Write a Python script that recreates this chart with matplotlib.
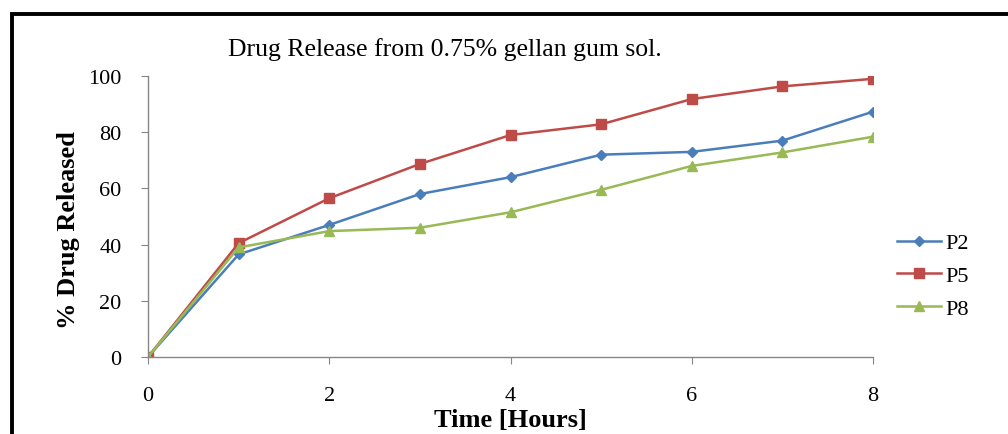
import numpy as np
import matplotlib
matplotlib.use("Agg")
import matplotlib.pyplot as plt
from matplotlib.patches import Rectangle

hours = [0, 1, 2, 3, 4, 5, 6, 7, 8]
p2 = [0, 36.5, 47, 58, 64, 72, 73, 77, 87.3]
p5 = [0, 40.5, 56.5, 68.7, 79, 82.8, 91.8, 96.3, 99]
p8 = [0, 39, 44.8, 46, 51.5, 59.5, 68, 72.8, 78.4]

plt.rcParams["font.family"] = ["Liberation Serif", "DejaVu Serif"]

fig = plt.figure(figsize=(10.08, 4.35), dpi=100)
ax = fig.add_axes([148 / 1008, 1 - 358 / 435, (873 - 148) / 1008, (358 - 77) / 435])

ax.plot(hours, p2, color="#4A7EBB", marker="D", markersize=5.5, lw=1.8, label="P2")
ax.plot(hours, p5, color="#BE4B48", marker="s", markersize=7, lw=1.8, label="P5")
ax.plot(hours, p8, color="#98B954", marker="^", markersize=7, lw=1.8, label="P8")

ax.set_xlim(0, 8)
ax.set_ylim(0, 100)
ax.set_xticks([0, 2, 4, 6, 8])
ax.set_yticks([0, 20, 40, 60, 80, 100])
for s in ("top", "right"):
    ax.spines[s].set_visible(False)
for s in ("left", "bottom"):
    ax.spines[s].set_color("#868686")
    ax.spines[s].set_linewidth(1.0)
ax.tick_params(direction="out", length=5, color="#868686", labelsize=16)
ax.tick_params(axis="y", pad=14)
ax.tick_params(axis="x", pad=16)

ax.set_xlabel("Time [Hours]", fontsize=19, fontweight="bold", labelpad=2)
ax.set_ylabel("% Drug Released", fontsize=19, fontweight="bold")
ax.yaxis.set_label_coords(-68 / 725, 0.455)

fig.text(445 / 1008, 1 - 50 / 435, "Drug Release from 0.75% gellan gum sol.",
         fontsize=18.5, ha="center", va="center")

ax.legend(loc="upper left", bbox_to_anchor=(888 / 1008, 1 - 225 / 435),
          bbox_transform=fig.transFigure, frameon=False, fontsize=16,
          handlelength=2.0, handletextpad=0.2, labelspacing=0.55, borderaxespad=0)

fig.patches.append(Rectangle((12 / 1008, -0.05), 1.1, 1.05 - 15 / 435,
                             transform=fig.transFigure, fill=False,
                             edgecolor="black", linewidth=2.8, clip_on=False))

fig.savefig("out.png", dpi=100)
